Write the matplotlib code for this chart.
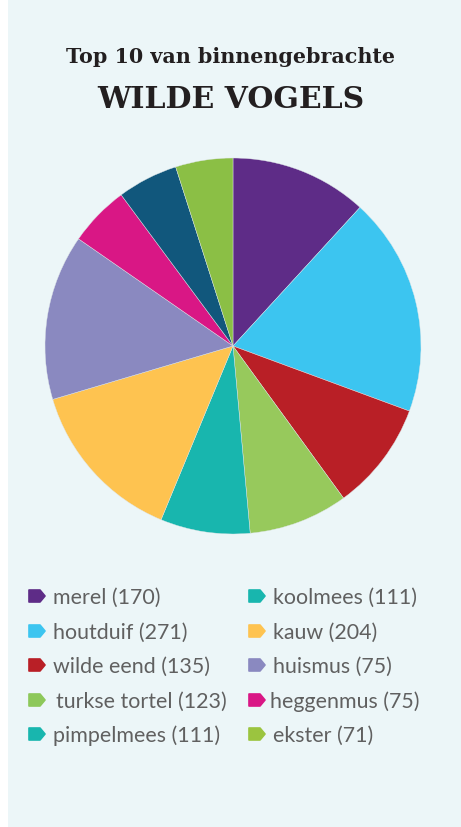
"""Top 10 binnengebrachte wilde vogels - pie chart with two-column legend."""
import matplotlib
matplotlib.use("Agg")
import matplotlib.pyplot as plt
from matplotlib.patches import Rectangle, Polygon

# Pie slices, clockwise from 12 o'clock
slice_values = [170, 271, 135, 123, 111, 204, 205, 75, 75, 71]
slice_colors = ["#5e2c87", "#3cc5f0", "#b91f26", "#97c95c", "#18b6ae",
                "#fec350", "#8a89c0", "#d91785", "#11577c", "#8bbf45"]

# Legend (as printed)
legend_names = ["merel", "houtduif", "wilde eend", "turkse tortel", "pimpelmees",
                "koolmees", "kauw", "huismus", "heggenmus", "ekster"]
legend_counts = [170, 271, 135, 123, 111, 111, 204, 75, 75, 71]
legend_colors = ["#5e2c87", "#3cc5f0", "#b91f26", "#8dc85a", "#18b6ae",
                 "#18b6ae", "#fec350", "#8a89c0", "#d91785", "#9bc43f"]

W, H = 461, 828
BG = "#ecf6f8"
TEXT = "#231f20"
GREY = "#606060"

fig = plt.figure(figsize=(W / 100, H / 100), dpi=100)
fig.patch.set_facecolor("white")

# overlay in pixel coordinates
over = fig.add_axes([0, 0, 1, 1])
over.set_xlim(0, W)
over.set_ylim(H, 0)
over.axis("off")
over.add_patch(Rectangle((8, 0), W - 8, H, facecolor=BG, edgecolor="none"))

over.text(230, 57, "Top 10 van binnengebrachte", ha="center", va="center",
          fontsize=14.9, fontweight="bold", family="DejaVu Serif", color=TEXT)
over.text(231, 100, "WILDE VOGELS", ha="center", va="center",
          fontsize=21.5, fontweight="bold", family="DejaVu Serif", color=TEXT)

# pie
cx, cy, r = 233, 347, 188
ax = fig.add_axes([(cx - r) / W, 1 - (cy + r) / H, 2 * r / W, 2 * r / H])
ax.pie(slice_values, colors=slice_colors, startangle=90, counterclock=False,
       radius=1, wedgeprops={"linewidth": 0.3, "edgecolor": "#dfe6e8"})
ax.set_xlim(-1, 1)
ax.set_ylim(-1, 1)
ax.set_aspect("auto")
ax.axis("off")


def tag(x, y, color):
    # small rounded "label" shape pointing right
    pts = [(x, y - 6), (x + 11, y - 6), (x + 16, y), (x + 11, y + 6), (x, y + 6)]
    over.add_patch(Polygon(pts, closed=True, facecolor=color, edgecolor=color,
                           linewidth=1.2, joinstyle="round"))


row_y = [597, 632, 666, 701, 735]
for i, (name, cnt, col) in enumerate(zip(legend_names, legend_counts, legend_colors)):
    c, rw = divmod(i, 5)
    y = row_y[rw]
    mx = 29 if c == 0 else 249
    tx = 53 if c == 0 else 273
    if name == "heggenmus":
        tx = 270
    if name == "turkse tortel":
        tx = 56
    tag(mx, y, col)
    over.text(tx, y + 1, f"{name} ({cnt})", ha="left", va="center", fontsize=15.4,
              family="Lato", fontweight="normal", color=GREY)

fig.savefig("out.png", dpi=100, facecolor=fig.get_facecolor())
